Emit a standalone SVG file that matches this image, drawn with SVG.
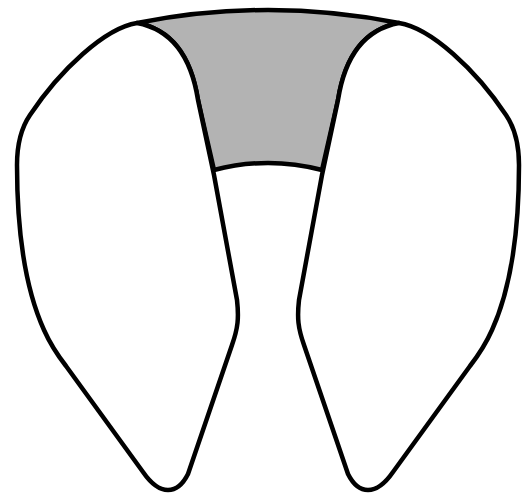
<svg xmlns="http://www.w3.org/2000/svg" width="522" height="494" viewBox="0 0 522 494">
<style>
.s{stroke:#000;stroke-width:4.5;stroke-linejoin:round}
.lobe{fill:#fff}
.gray{fill:#b3b3b3}
</style>
<defs>
<path id="lobeShape" d="M137,23 C105,28 60,70 30,115 Q17,134 17,165 C17,228 25,288 44,330 Q52,348 66,366 L143,472 C152,485 160,490 168,490 C176,490 183,484 188,474 L232,345 C238,328 239,318 237,300 L214,175 L198,100 C192,62 175,30 137,23 Z"/>
</defs>
<rect width="522" height="494" fill="#fff"/>
<g id="gray-region">
<path class="s gray" d="M137,23 Q268,-3 399,23 C361,30 344,62 338,100 L322,170 Q268,156 214,170 L198,100 C192,62 175,30 137,23 Z"/>
</g>
<g id="left-lobe">
<use href="#lobeShape" class="s lobe"/>
</g>
<g id="right-lobe" transform="translate(536,0) scale(-1,1)">
<use href="#lobeShape" class="s lobe"/>
</g>
</svg>
